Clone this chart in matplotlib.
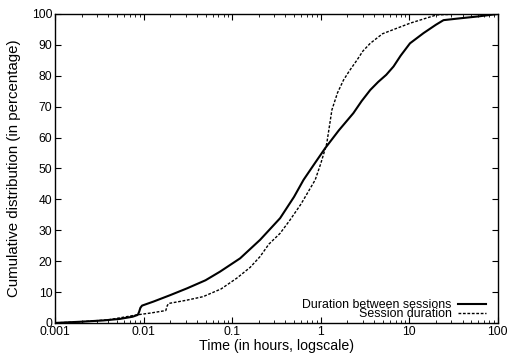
import matplotlib
matplotlib.use('Agg')
import matplotlib.pyplot as plt
from matplotlib.ticker import FixedLocator, LogLocator, NullFormatter, FixedFormatter

# CDF: time in hours, cumulative percentage
between_x = [0.001, 0.002, 0.0035, 0.0054, 0.0075, 0.0086, 0.0089, 0.0092,
             0.0096, 0.0129, 0.02, 0.031, 0.05, 0.073, 0.123, 0.207, 0.348,
             0.5, 0.64, 0.85, 1.12, 1.6, 2.34, 2.9, 3.63, 4.46, 5.5, 6.65,
             8.0, 10.2, 14.5, 20.0, 24.4, 37.7, 60.0, 100.0]
between_y = [0, 0.4, 0.8, 1.3, 2.0, 2.6, 3.6, 4.9,
             5.6, 6.9, 9.0, 11.2, 13.8, 16.6, 20.9, 26.9, 33.9,
             40.8, 46.3, 51.5, 56.5, 62.3, 67.9, 71.8, 75.4, 78.0, 80.3, 83.0,
             86.5, 90.5, 93.8, 96.5, 98.0, 98.6, 99.2, 100]

session_x = [0.001, 0.002, 0.004, 0.0084, 0.012, 0.0178, 0.0185, 0.0192,
             0.03, 0.047, 0.075, 0.113, 0.16, 0.207, 0.26, 0.348, 0.45, 0.6,
             0.867, 1.0, 1.17, 1.34, 1.55, 1.81, 2.1, 2.56, 3.0, 3.63, 5.0,
             10.2, 20.4, 40.0, 100.0]
session_y = [0, 0.4, 1.0, 2.6, 3.2, 4.0, 5.6, 6.3,
             7.3, 8.5, 11.0, 14.5, 18.0, 21.5, 25.5, 29.0, 33.3, 38.5,
             46.3, 51.5, 58.0, 69.0, 74.5, 78.6, 81.5, 85.0, 88.0, 90.5, 93.6,
             97.0, 99.7, 100, 100]

x_ticks = [0.001, 0.01, 0.1, 1, 10, 100]
x_tick_labels = ['0.001', '0.01', '0.1', '1', '10', '100']

plt.rcParams['font.family'] = ['Liberation Sans', 'DejaVu Sans']

fig = plt.figure(figsize=(5.1, 3.58), dpi=100)
ax = fig.add_axes([0.108, 0.098, 0.868, 0.863])

ax.plot(between_x, between_y, color='black', linewidth=1.5,
        label='Duration between sessions')
ax.plot(session_x, session_y, color='black', linewidth=1.0,
        linestyle=(0, (2, 1.2)), label='Session duration')

ax.set_xscale('log')
ax.set_xlim(0.001, 100)
ax.set_ylim(0, 100)
ax.xaxis.set_major_locator(FixedLocator(x_ticks))
ax.xaxis.set_major_formatter(FixedFormatter(x_tick_labels))
ax.xaxis.set_minor_locator(LogLocator(base=10, subs=range(2, 10)))
ax.xaxis.set_minor_formatter(NullFormatter())
ax.set_yticks(range(0, 101, 10))

ax.tick_params(which='both', direction='in', top=True, right=True,
               colors='black', labelsize=8.7, pad=2)
ax.tick_params(which='major', length=4, width=0.8)
ax.tick_params(which='minor', length=2, width=0.6)
for sp in ax.spines.values():
    sp.set_linewidth(1.0)

ax.set_xlabel('Time (in hours, logscale)', fontsize=10.2, labelpad=1)
ax.set_ylabel('Cumulative distribution (in percentage)', fontsize=10.8,
              labelpad=8)

ax.legend(loc='lower right', bbox_to_anchor=(0.98, 0.0), frameon=False,
          markerfirst=False, handlelength=2.3, handletextpad=0.5,
          labelspacing=-0.2, borderaxespad=0.0, borderpad=0.2, fontsize=8.9)

plt.savefig('out.png', dpi=100)
